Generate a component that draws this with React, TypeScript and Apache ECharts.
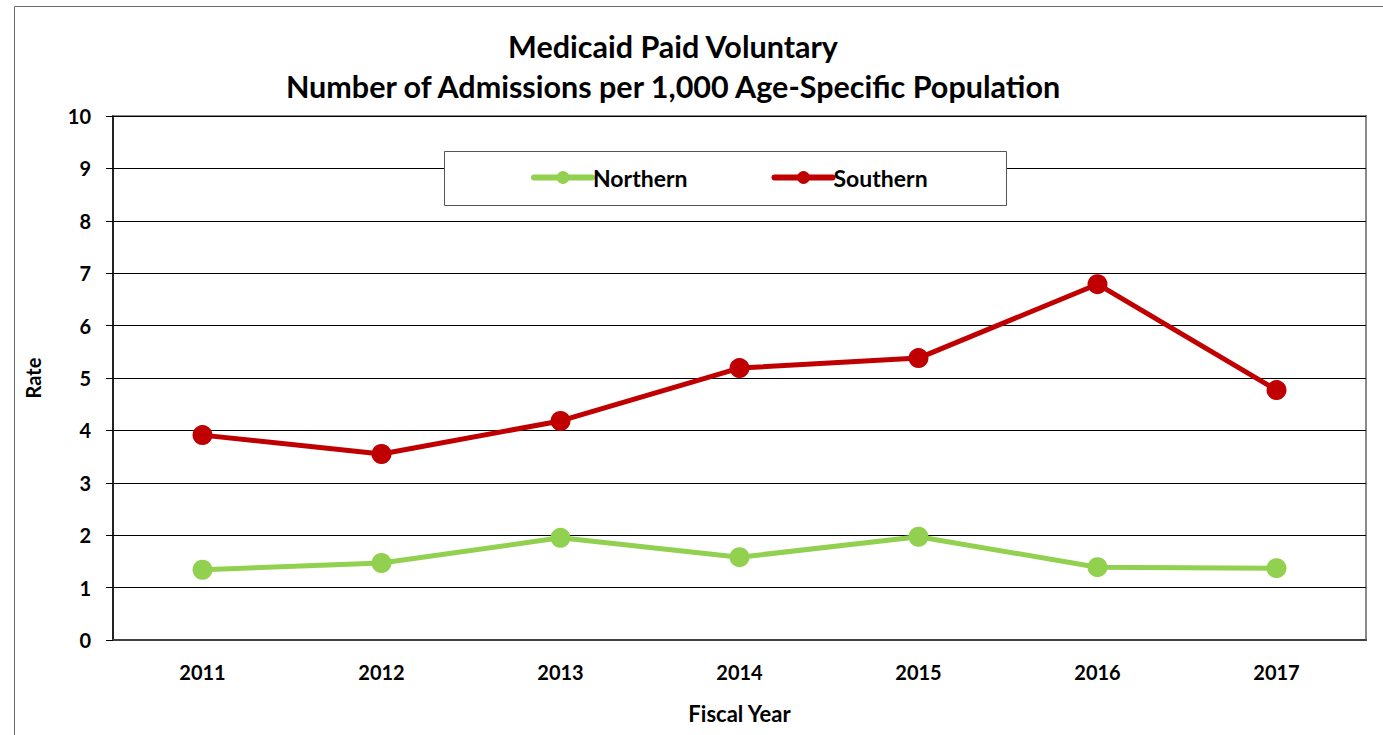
import React, { useEffect, useRef } from "react";
import * as echarts from "echarts";

const years = ["2011", "2012", "2013", "2014", "2015", "2016", "2017"];
const northern = [1.34, 1.47, 1.95, 1.58, 1.97, 1.39, 1.37];
const southern = [3.91, 3.55, 4.18, 5.19, 5.38, 6.79, 4.77];

const FONT = "Lato, 'Open Sans', sans-serif";

export default function App() {
  const ref = useRef<HTMLDivElement>(null);
  useEffect(() => {
    if (!ref.current) return;
    const chart = echarts.init(ref.current, null, { renderer: "svg" });
    chart.setOption({
      animation: false,
      backgroundColor: "#ffffff",
      textStyle: { fontFamily: FONT },
      title: {
        text: "Medicaid Paid Voluntary\nNumber of Admissions per 1,000 Age-Specific Population",
        left: 668,
        top: 21,
        textAlign: "center",
        textStyle: { fontFamily: FONT, fontSize: 30.5, fontWeight: "bold", color: "#000", lineHeight: 40 },
      },
      graphic: [
        {
          type: "rect",
          shape: { x: 14.5, y: 6.5, width: 1500, height: 900 },
          style: { fill: "none", stroke: "#6b6b6b", lineWidth: 1 },
          z: -1,
        },
        {
          type: "rect",
          shape: { x: 444.5, y: 151.5, width: 562, height: 54 },
          style: { fill: "#ffffff", stroke: "#555", lineWidth: 1 },
          z: 5,
        },
      ],
      legend: {
        left: 526,
        top: 161,
        itemGap: 84,
        itemWidth: 58,
        itemHeight: 16,
        z: 10,
        lineStyle: { width: 6, cap: "round" },
        textStyle: { fontFamily: FONT, fontSize: 23, fontWeight: "bold", color: "#000", padding: [0, 0, 0, -4] },
        data: ["Northern", "Southern"],
      },
      grid: {
        left: 113,
        right: 17,
        top: 116,
        bottom: 95,
        show: true,
        borderColor: "#8a8a8a",
        borderWidth: 2,
      },
      xAxis: {
        type: "category",
        data: years,
        boundaryGap: true,
        name: "Fiscal Year",
        nameLocation: "middle",
        nameGap: 62,
        nameTextStyle: { fontFamily: FONT, fontSize: 22, fontWeight: "bold", color: "#000" },
        axisLine: { lineStyle: { color: "#404040", width: 2 } },
        axisTick: { show: false },
        axisLabel: { fontFamily: FONT, fontSize: 20, fontWeight: "bold", color: "#000", margin: 22 },
      },
      yAxis: {
        type: "value",
        min: 0,
        max: 10,
        interval: 1,
        name: "Rate",
        nameLocation: "middle",
        nameGap: 70,
        nameTextStyle: { fontFamily: FONT, fontSize: 20, fontWeight: "bold", color: "#000" },
        axisLine: { show: true, lineStyle: { color: "#000", width: 1.5 } },
        axisTick: { show: true, length: 7, lineStyle: { color: "#000" } },
        axisLabel: { fontFamily: FONT, fontSize: 20, fontWeight: "bold", color: "#000", margin: 22 },
        splitLine: { show: true, lineStyle: { color: "#000", width: 1 } },
      },
      series: [
        {
          name: "Northern",
          type: "line",
          data: northern,
          symbol: "circle",
          symbolSize: 20,
          itemStyle: { color: "#92D050" },
          lineStyle: { color: "#92D050", width: 5 },
        },
        {
          name: "Southern",
          type: "line",
          data: southern,
          symbol: "circle",
          symbolSize: 20,
          itemStyle: { color: "#C00000" },
          lineStyle: { color: "#C00000", width: 5 },
        },
      ],
    });
    return () => chart.dispose();
  }, []);
  return (
    <div
      ref={ref}
      style={{ position: "fixed", left: 0, top: 0, width: 1383, height: 735 }}
    />
  );
}
